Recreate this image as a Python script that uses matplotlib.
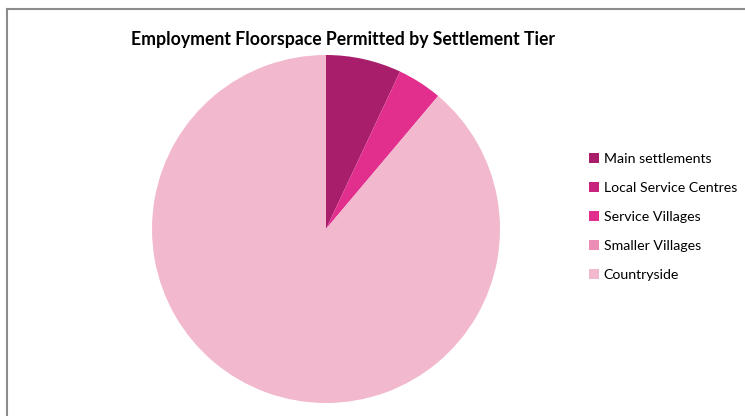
import matplotlib.pyplot as plt
from matplotlib.lines import Line2D

plt.rcParams["font.family"] = ["Lato", "DejaVu Sans"]

# Share of permitted employment floorspace (%) by settlement tier
tiers = ["Main settlements", "Local Service Centres", "Service Villages",
         "Smaller Villages", "Countryside"]
shares = [7.0, 0.0, 4.15, 0.0, 88.85]
colours = ["#a91e6a", "#c8237d", "#e22f8e", "#ec8db6", "#f2b8ce"]

W, H = 745, 416
fig = plt.figure(figsize=(W / 100, H / 100), dpi=100)

# chart-area border (top and left edges visible)
fig.add_artist(Line2D([7 / W, 7 / W], [0, 1 - 9 / H], color="#8c8c8c", linewidth=1.5))
fig.add_artist(Line2D([7 / W, 1], [1 - 9 / H, 1 - 9 / H], color="#8c8c8c", linewidth=1.5))

cx, cy, r = 326, 229, 174
ax = fig.add_axes([(cx - r) / W, (H - cy - r) / H, 2 * r / W, 2 * r / H])
wedges, _ = ax.pie(shares, colors=colours, startangle=90, counterclock=False,
                   wedgeprops={"linewidth": 0})
ax.set_xlim(-1, 1)
ax.set_ylim(-1, 1)
ax.set_aspect("equal")

fig.text(343 / W, 1 - 40 / H, "Employment Floorspace Permitted by Settlement Tier",
         ha="center", va="center", fontsize=12.7, fontweight="bold")

fig.legend(wedges, tiers, loc="upper left", bbox_to_anchor=(583 / W, 1 - 147 / H),
           frameon=False, fontsize=10.2, handlelength=0.72, handleheight=0.72,
           handletextpad=0.35, labelspacing=1.2, borderaxespad=0)

fig.savefig("out.png", dpi=100)
